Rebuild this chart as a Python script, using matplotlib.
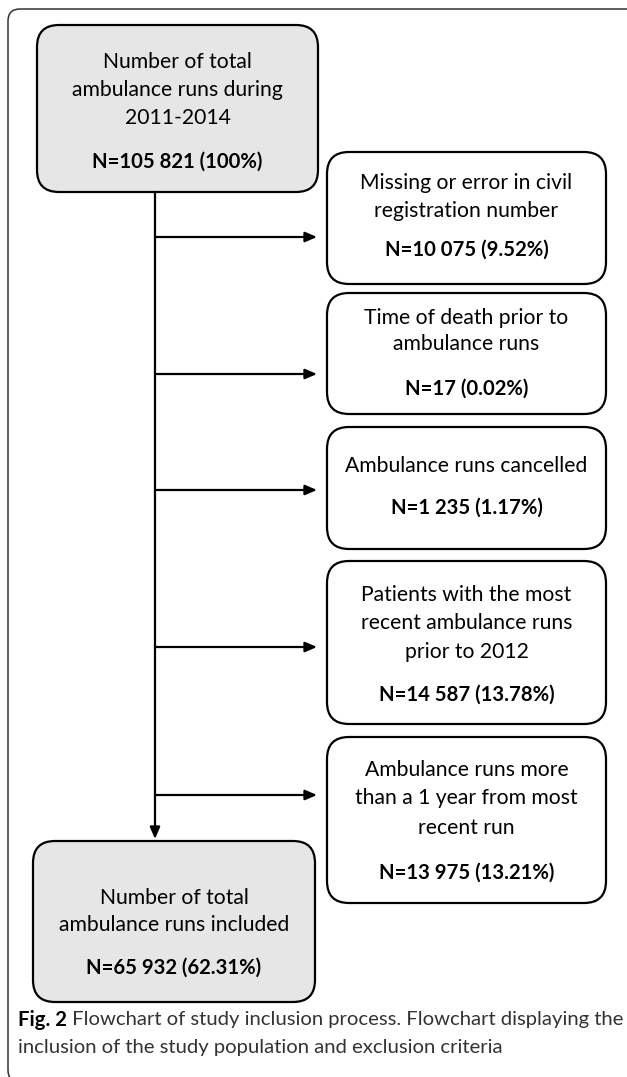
import matplotlib
matplotlib.use("Agg")
import matplotlib.pyplot as plt
from matplotlib.patches import FancyBboxPatch

# box texts (title lines, bold count line)
top_lines = ["Number of total", "ambulance runs during", "2011-2014"]
top_count = "N=105 821 (100%)"

excl_lines = [
    ["Missing or error in civil", "registration number"],
    ["Time of death prior to", "ambulance runs"],
    ["Ambulance runs cancelled"],
    ["Patients with the most", "recent ambulance runs", "prior to 2012"],
    ["Ambulance runs more", "than a 1 year from most", "recent run"],
]
excl_counts = ["N=10 075 (9.52%)", "N=17 (0.02%)", "N=1 235 (1.17%)",
               "N=14 587 (13.78%)", "N=13 975 (13.21%)"]

final_lines = ["Number of total", "ambulance runs included"]
final_count = "N=65 932 (62.31%)"

caption_bold = "Fig. 2"
caption_rest = [" Flowchart of study inclusion process. Flowchart displaying the",
                "inclusion of the study population and exclusion criteria"]

# layout in pixels (y down)
W, H = 627, 1077
excl_y = [(152, 284), (293, 414), (427, 549), (561, 724), (737, 903)]
excl_arrow_y = [237, 374, 490, 647, 795]
excl_line_y = [[183, 211], [318, 344], [466], [595, 623, 652], [770, 798, 828]]
excl_count_y = [250, 389, 508, 695, 873]

plt.rcParams['font.family'] = ['Lato', 'DejaVu Sans']
FS = 15.2
FSB = 14.6

fig = plt.figure(figsize=(W / 100, H / 100), dpi=100)
ax = fig.add_axes([0, 0, 1, 1])
ax.set_xlim(0, W)
ax.set_ylim(H, 0)
ax.axis('off')


def box(x0, y0, x1, y1, fc, r=22, lw=1.6, ec='black'):
    p = FancyBboxPatch((x0, y0), x1 - x0, y1 - y0,
                       boxstyle="round,pad=0,rounding_size=%d" % r,
                       fc=fc, ec=ec, lw=lw, zorder=2)
    ax.add_patch(p)


def arrow(x0, y0, x1, y1):
    ax.annotate("", xy=(x1, y1), xytext=(x0, y0),
                arrowprops=dict(arrowstyle="-|>,head_length=0.7,head_width=0.3",
                                color='black', lw=1.6, shrinkA=0, shrinkB=0),
                zorder=3)


# outer frame (right and bottom run off the page)
box(8, 9, 645, 1082, 'white', r=12, lw=1.1, ec='#333333')

# top box
box(37, 25, 318, 192, '#e6e6e6')
cx = (37 + 318) / 2
for t, y in zip(top_lines, [62, 90, 118]):
    ax.text(cx, y, t, ha='center', va='center', fontsize=FS, zorder=4)
ax.text(cx, 162, top_count, ha='center', va='center', fontsize=FSB,
        fontweight='bold', zorder=4)

# main vertical line
arrow(155, 192, 155, 839)

# exclusion boxes
ex0, ex1 = 327, 606
ecx = (ex0 + ex1) / 2
for i in range(len(excl_lines)):
    y0, y1 = excl_y[i]
    box(ex0, y0, ex1, y1, 'white')
    for t, y in zip(excl_lines[i], excl_line_y[i]):
        ax.text(ecx, y, t, ha='center', va='center', fontsize=FS, zorder=4)
    ax.text(ecx, excl_count_y[i], excl_counts[i], ha='center', va='center',
            fontsize=FSB, fontweight='bold', zorder=4)
    arrow(155, excl_arrow_y[i], 317, excl_arrow_y[i])

# final box
box(33, 841, 315, 1002, '#e6e6e6')
fcx = (33 + 315) / 2
for t, y in zip(final_lines, [898, 925]):
    ax.text(fcx, y, t, ha='center', va='center', fontsize=FS, zorder=4)
ax.text(fcx, 968, final_count, ha='center', va='center', fontsize=FSB,
        fontweight='bold', zorder=4)

# caption
tb = ax.text(18, 1020, caption_bold, ha='left', va='center', fontsize=14.6,
             fontweight='bold', zorder=4)
fig.canvas.draw()
bb = tb.get_window_extent().transformed(ax.transData.inverted())
ax.text(bb.x1, 1020, caption_rest[0], ha='left', va='center', fontsize=14.6,
        color='#333333', zorder=4)
ax.text(18, 1048, caption_rest[1], ha='left', va='center', fontsize=14.6,
        color='#333333', zorder=4)

fig.savefig("out.png", dpi=100)
